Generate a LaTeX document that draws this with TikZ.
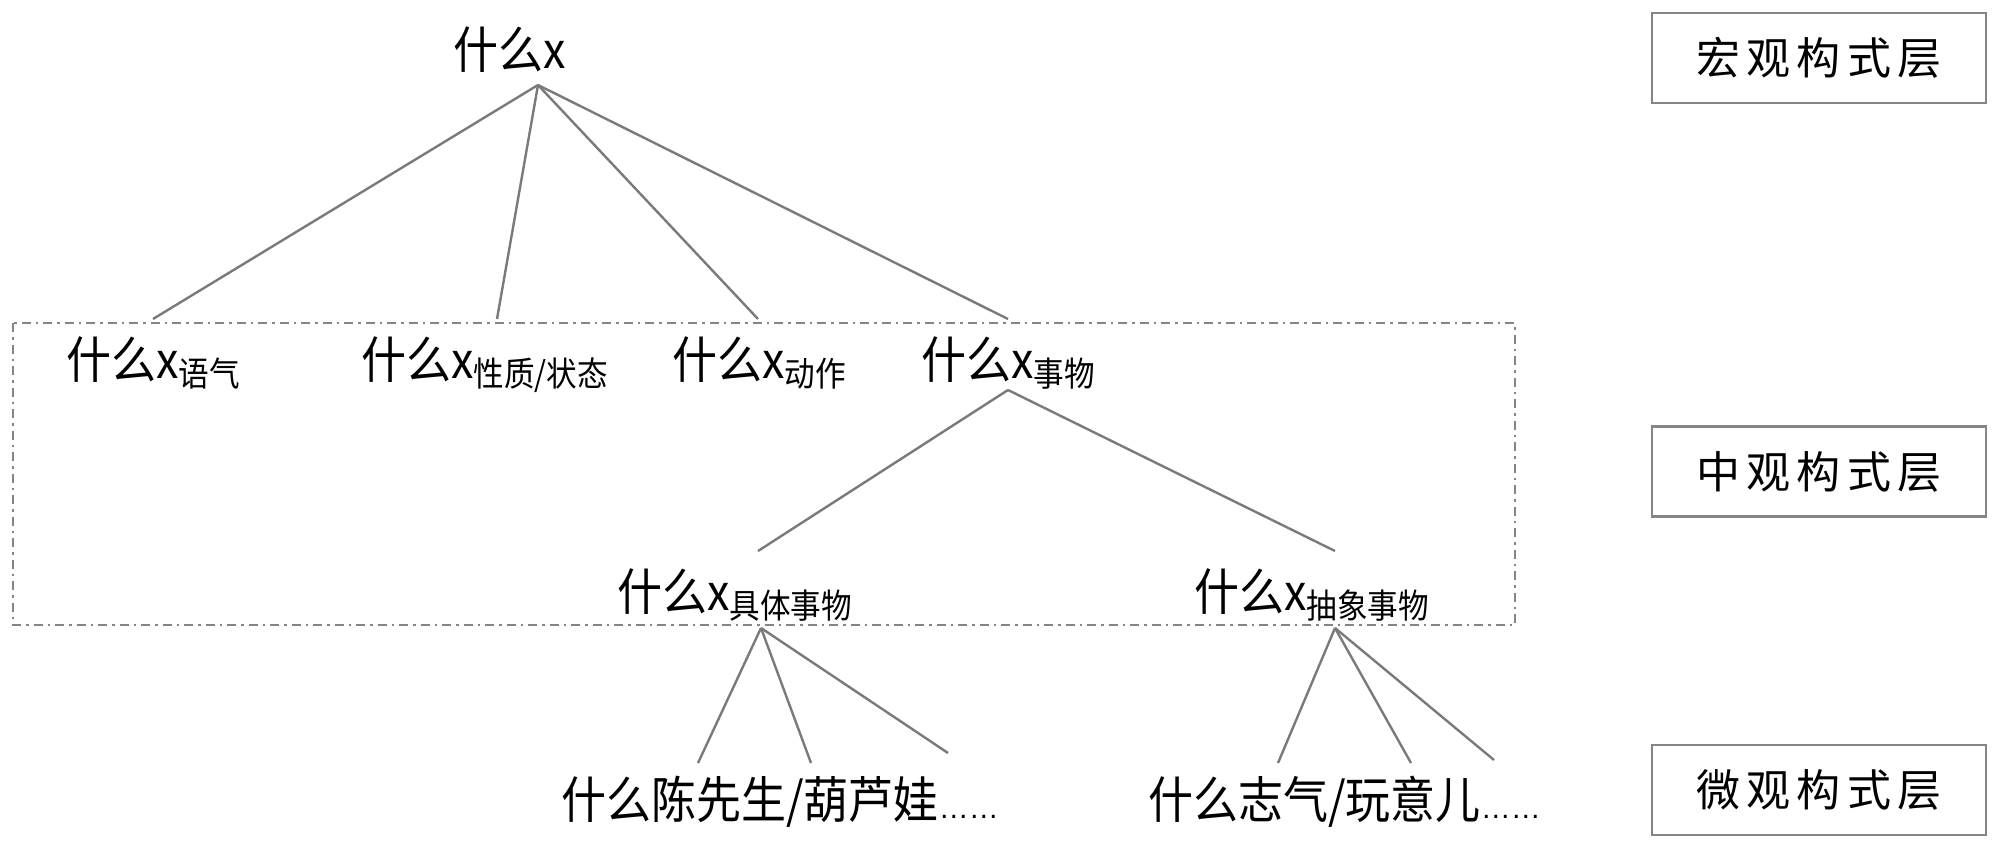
\documentclass[tikz,border=0pt]{standalone}
\usepackage{fontspec}
\newfontfamily\cjk[FakeStretch=0.9]{Noto Sans CJK SC}
\newfontfamily\layerfont[LetterSpace=14]{Noto Sans CJK SC}
\newfontfamily\dotfont{Liberation Sans}
\newcommand{\mainsz}{\fontsize{50pt}{50pt}\selectfont}
\newcommand{\lowsub}[1]{\raisebox{-8pt}{\fontsize{34pt}{34pt}\selectfont #1}}
\newcommand{\edots}{{\dotfont\fontsize{30pt}{30pt}\selectfont ……}}
\definecolor{linegray}{HTML}{7A7A7A}
\definecolor{boxgray}{HTML}{858585}
\begin{document}
\begin{tikzpicture}[x=1pt,y=-1pt,
  conn/.style={draw=linegray, line width=2.4pt},
  lbl/.style={font=\cjk\mainsz, inner sep=0pt, anchor=base west, text=black},
  layerbox/.style={draw=boxgray, line width=2.5pt, minimum width=334pt, minimum height=90pt, inner sep=0pt, font=\layerfont\fontsize{44pt}{44pt}\selectfont},
  groupbox/.style={draw=boxgray, line width=2.6pt, dash pattern=on 9pt off 5pt on 2.5pt off 5pt}]
\useasboundingbox (0,0) rectangle (2000,848);
\fill[white] (0,0) rectangle (2000,848);

% nodes
\node[lbl] (top) at (453,69) {什么x};
\node[lbl] (yq) at (66,378) {什么x\lowsub{语气}};
\node[lbl] (xz) at (361,378) {什么x\lowsub{性质/状态}};
\node[lbl] (dz) at (672,378) {什么x\lowsub{动作}};
\node[lbl] (sw) at (921,378) {什么x\lowsub{事物}};
\node[lbl] (jt) at (617,610) {什么x\lowsub{具体事物}};
\node[lbl] (cx) at (1194,610) {什么x\lowsub{抽象事物}};
\node[lbl] (ex1) at (561,818) {什么陈先生/葫芦娃\edots};
\node[lbl] (ex2) at (1148,818) {什么志气/玩意儿\edots};

\node[layerbox] (macro) at (1819,58) {宏观构式层};
\node[layerbox] (meso) at (1819,471.5) {中观构式层};
\node[layerbox] (micro) at (1819,790) {微观构式层};

\draw[groupbox] (13,323) rectangle (1515,625);

% connector ends
\coordinate (topo) at (538,85);
\coordinate (yqt) at (153,319);
\coordinate (xzt) at (497,319);
\coordinate (dzt) at (758,319);
\coordinate (swt) at (1008,319);
\coordinate (swo) at (1008,390);
\coordinate (jtt) at (758,551);
\coordinate (cxt) at (1335,551);
\coordinate (jto) at (761,628);
\coordinate (cxo) at (1335,628);
\coordinate (e1a) at (698,763);
\coordinate (e1b) at (811,763);
\coordinate (e1c) at (948,753);
\coordinate (e2a) at (1278,763);
\coordinate (e2b) at (1411,763);
\coordinate (e2c) at (1494,760);

\draw[conn] (topo) -- (yqt);
\draw[conn] (topo) -- (xzt);
\draw[conn] (topo) -- (dzt);
\draw[conn] (topo) -- (swt);
\draw[conn] (swo) -- (jtt);
\draw[conn] (swo) -- (cxt);
\draw[conn] (jto) -- (e1a);
\draw[conn] (jto) -- (e1b);
\draw[conn] (jto) -- (e1c);
\draw[conn] (cxo) -- (e2a);
\draw[conn] (cxo) -- (e2b);
\draw[conn] (cxo) -- (e2c);
\end{tikzpicture}
\end{document}
